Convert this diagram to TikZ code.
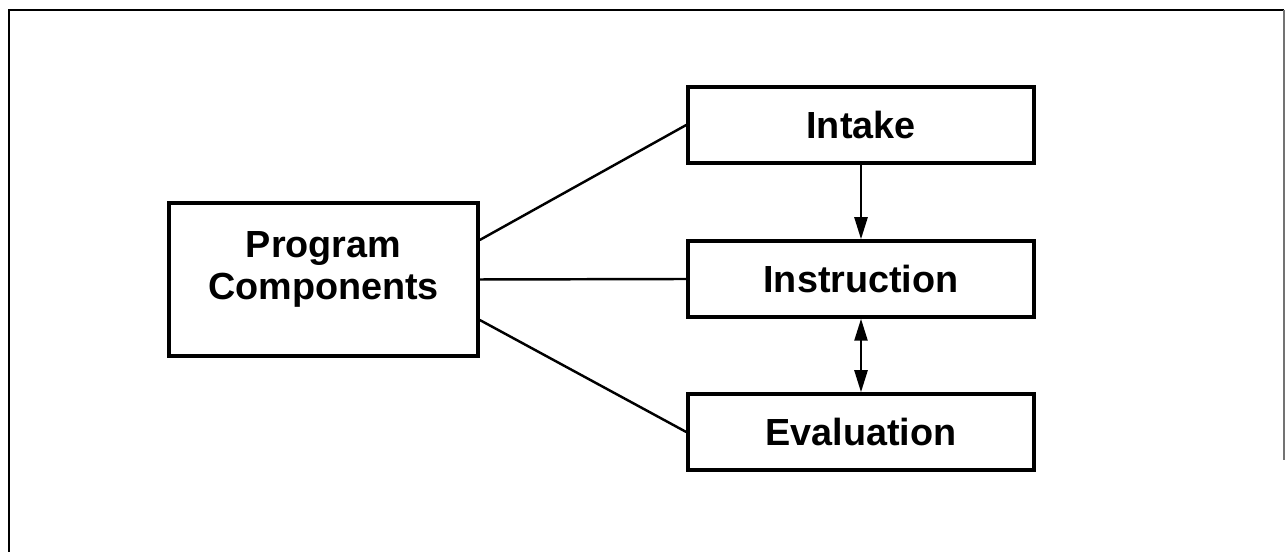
\documentclass[tikz,border=0pt]{standalone}
\usepackage{fontspec}
\setmainfont{Liberation Sans}
\usepackage{tikz}
\usetikzlibrary{positioning,calc,arrows.meta}

\tikzset{
  blockbox/.style={draw=black, line width=2pt, fill=white, minimum width=6.92cm, minimum height=1.52cm, font=\fontsize{21.5}{24}\selectfont\bfseries, inner sep=2pt},
  link/.style={line width=1.4pt},
  flow/.style={line width=1.4pt, -{Triangle[length=4.4mm,width=2.6mm]}},
}

\begin{document}
\begin{tikzpicture}
  \useasboundingbox (0,0) rectangle (25.7,11.04);

  % Frame (top, left and partial right edge)
  \coordinate (ftl) at (0.18, 10.84);
  \coordinate (fbl) at (0.18, 0);
  \coordinate (ftr) at (25.68, 10.84);
  \coordinate (fbr) at (25.68, 1.84);
  \draw[line width=1.6pt] (fbl) -- (ftl) -- (ftr);
  \draw[line width=0.7pt, black!55] (ftr) -- (fbr);

  % Main block
  \node[blockbox, minimum width=6.18cm, minimum height=3.06cm] (comp) at (6.47, 5.45)
    {\raisebox{0pt}[0pt][0pt]{\begin{tabular}{@{}c@{}}Program\\Components\end{tabular}}};

  % Right column
  \node[blockbox] (intake) at (17.22, 8.54) {Intake};
  \node[blockbox] (instr) at (17.22, 5.46) {Instruction};
  \node[blockbox] (eval) at (17.22, 2.40) {Evaluation};

  % Connectors from the main block
  \draw[link] ($(comp.east)+(0,0.79)$) -- (intake.west);
  \draw[link] (comp.east) -- (instr.west);
  \draw[link] ($(comp.east)+(0,-0.81)$) -- (eval.west);

  % Flow between stages
  \draw[flow] (intake) -- (instr);
  \draw[flow, {Triangle[length=4.4mm,width=2.6mm]}-{Triangle[length=4.4mm,width=2.6mm]}] (instr) -- (eval);
\end{tikzpicture}
\end{document}
